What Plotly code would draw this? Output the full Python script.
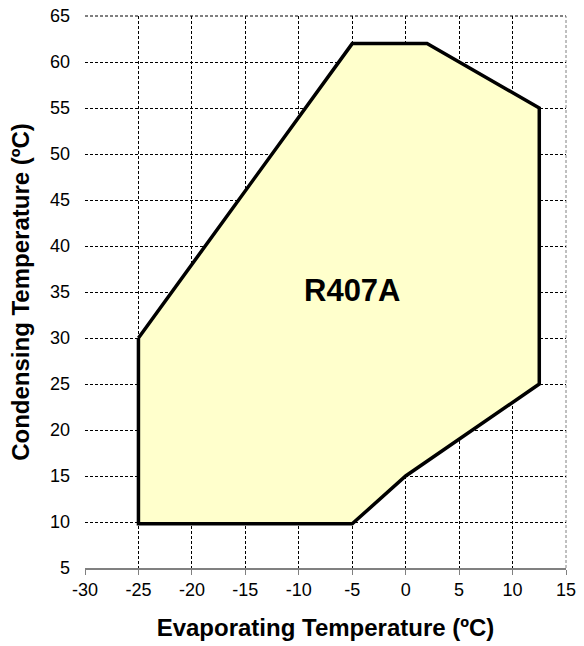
import plotly.graph_objects as go

# Operating envelope for R407A (evaporating temp, condensing temp)
evap_temp = [-25, -5, 2, 12.5, 12.5, 0, -5, -25, -25]
cond_temp = [30, 62, 62, 55, 25, 15, 9.8, 9.8, 30]

x_ticks = [-30, -25, -20, -15, -10, -5, 0, 5, 10, 15]
y_ticks = [5, 10, 15, 20, 25, 30, 35, 40, 45, 50, 55, 60, 65]

label_text = "R407A"
label_pos = (-5, 35.2)

font_family = "Liberation Sans, Arial, sans-serif"

fig = go.Figure()
fig.add_trace(go.Scatter(
    x=evap_temp, y=cond_temp, mode="lines", fill="toself",
    fillcolor="#FFFFCC", line=dict(color="black", width=3.5),
    hoverinfo="skip", showlegend=False,
))

fig.add_annotation(x=label_pos[0], y=label_pos[1], text="<b>%s</b>" % label_text,
                   showarrow=False, font=dict(size=31, color="black", family=font_family))

# dashed frame on the top and right edges of the plot area
fig.add_shape(type="line", xref="x domain", yref="y domain", x0=0, x1=1, y0=1, y1=1,
              line=dict(color="black", width=1, dash="3px,2px"), layer="below")
fig.add_shape(type="line", xref="x domain", yref="y domain", x0=1, x1=1, y0=0, y1=1,
              line=dict(color="#808080", width=1, dash="3px,2px"), layer="below")

fig.update_layout(
    width=584, height=646,
    margin=dict(l=85, r=18, t=16, b=78),
    paper_bgcolor="white", plot_bgcolor="white",
    font=dict(family=font_family, color="black"),
    xaxis=dict(
        range=[-30, 15], tickvals=x_ticks, ticktext=[str(v) for v in x_ticks],
        showgrid=True, gridcolor="black", griddash="3px,2px", gridwidth=1,
        zeroline=False, showline=True, linecolor="#808080", linewidth=1.5,
        ticks="outside", tickcolor="#808080", ticklen=5, tickwidth=1,
        tickfont=dict(size=18), automargin=False, ticklabeloverflow="allow",
        title=dict(text="<b>Evaporating Temperature (ºC)</b>", font=dict(size=24), standoff=20),
        fixedrange=True,
    ),
    yaxis=dict(
        range=[5, 65], tickvals=y_ticks, ticktext=[str(v) for v in y_ticks],
        showgrid=True, gridcolor="black", griddash="3px,2px", gridwidth=1,
        zeroline=False, showline=False, ticks="", ticklabelstandoff=14,
        tickfont=dict(size=18), automargin=False, ticklabeloverflow="allow",
        title=dict(text="<b>Condensing Temperature (ºC)</b>", font=dict(size=24), standoff=13),
        fixedrange=True,
    ),
)

# remove the default page margin so the figure sits at the window's top-left corner
fig.write_html("out.html", config={"displayModeBar": False},
               post_script="document.body.style.margin='0';")
